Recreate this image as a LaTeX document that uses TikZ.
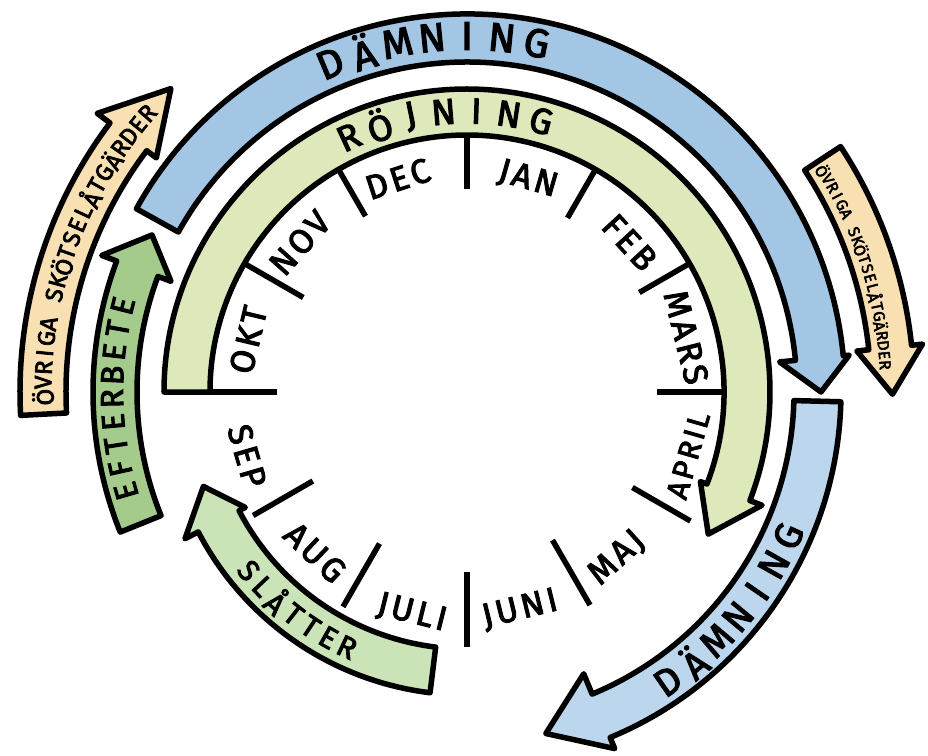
\documentclass[tikz,border=0pt]{standalone}
\usepackage{fontspec}
\setmainfont[FakeBold=3]{Fira Sans}
\newfontfamily\hand[LetterSpace=10,FakeBold=3]{Fira Sans}
\definecolor{blueA}{RGB}{163,198,229}
\definecolor{blueB}{RGB}{188,214,238}
\definecolor{roj}{RGB}{221,233,187}
\definecolor{slat}{RGB}{203,228,183}
\definecolor{efter}{RGB}{165,203,140}
\definecolor{ovr}{RGB}{248,224,178}
\tikzset{
  band/.style={draw=black,line width=5.5pt,line join=round},
  divider/.style={draw=black,line width=5.5pt,line cap=butt},
  month/.style={inner sep=0pt,font=\hand\fontsize{34pt}{34pt}\selectfont},
  lettr/.style={inner sep=0pt},
}
% curved clockwise arrow: start, head base, tip, r in, r out, barb in, barb out, style
\newcommand\bandarrow[8]{%
  \pgfmathsetmacro\midr{(#4+#5)/2}%
  \path[band,#8] (#1:#5) arc[start angle=#1, end angle=#2, radius=#5]
     -- (#2:#7) -- (#3:\midr) -- (#2:#6) -- (#2:#4)
     arc[start angle=#2, end angle=#1, radius=#4] -- cycle;}
% letters along an arc, tops outward, reading clockwise
\newcommand\arcout[5]{\foreach \ch [count=\i from 0] in {#5}
  {\node[lettr,rotate={#2-\i*#3-90}] at ({#2-\i*#3}:#1) {#4\ch};}}
% letters along an arc, tops inward, reading counterclockwise
\newcommand\arcin[5]{\foreach \ch [count=\i from 0] in {#5}
  {\node[lettr,rotate={#2+\i*#3+90}] at ({#2+\i*#3}:#1) {#4\ch};}}
\begin{document}
\begin{tikzpicture}[x=1pt,y=1pt]
\useasboundingbox (-467,-363) rectangle (461,392);
\fill[white] (-467,-363) rectangle (461,392);

% arrows
\bandarrow{151}{5.5}{0}{330}{378}{314}{384}{fill=blueA}
\bandarrow{-1.5}{-67.5}{-77}{327}{374}{305}{386}{fill=blueB}
\bandarrow{180}{-21}{-30.5}{257}{303}{250}{316}{fill=roj}
\bandarrow{-97}{-152.5}{-160.3}{257}{303}{250}{318}{fill=slat}
\bandarrow{202}{159.5}{153.5}{330}{374}{316}{390}{fill=efter}
\bandarrow{183}{143}{134.3}{401}{447}{389}{463}{fill=ovr}
\bandarrow{33.3}{6}{-0.3}{404}{447}{392}{458}{fill=ovr}

% month dividers
\foreach \a/\ri/\ro in {90/203/257,60/201/257,30/199/257,0/190/257,-30/191/258,-60/171/246,-90/180/255,-120/175/248,-150/178/247,180/190/257,150/189/255,120/203/258}
  {\draw[divider] (\a:\ri) -- (\a:\ro);}

% months
\node[month,rotate=18]    (dec)   at (108:224)    {DEC};
\node[month,rotate=-16]   (jan)   at (74:221)     {JAN};
\node[month,rotate=-47.4] (feb)   at (42.6:221)   {FEB};
\node[month,rotate=-76]   (mars)  at (14:226)     {MARS};
\node[month,rotate=74,font=\hand\fontsize{30pt}{30pt}\selectfont] (april) at (-16:230) {APRIL};
\node[month,rotate=42.1]  (maj)   at (-47.9:224)  {MAJ};
\node[month,rotate=13.7]  (juni)  at (-76.3:224)  {JUNI};
\node[month,rotate=-14]   (juli)  at (-104:228)   {JULI};
\node[month,rotate=-43.4] (aug)   at (-133.4:221) {AUG};
\node[month,rotate=-73.8] (sep)   at (-163.8:229) {SEP};
\node[month,rotate=76.6]  (okt)   at (166.6:225)  {OKT};
\node[month,rotate=48.3]  (nov)   at (138.3:224)  {NOV};

% band texts
\arcout{356}{112.6}{5.65}{\fontsize{40pt}{40pt}\selectfont}{D,Ä,M,N,I,N,G}
\arcout{281}{114.9}{6.7}{\fontsize{36pt}{36pt}\selectfont}{R,Ö,J,N,I,N,G}
\arcin{352}{-55.2}{5.17}{\fontsize{38pt}{38pt}\selectfont}{D,Ä,M,N,I,N,G}
\arcin{282}{-140.7}{4.25}{\fontsize{30pt}{30pt}\selectfont}{S,L,Å,T,T,E,R}
\arcout{355}{196.2}{3.78}{\fontsize{32pt}{32pt}\selectfont}{E,F,T,E,R,B,E,T,E}
\arcout{424}{180.7}{1.99}{\fontsize{24pt}{24pt}\selectfont}{Ö,V,R,I,G,A,,S,K,Ö,T,S,E,L,Å,T,G,Ä,R,D,E,R}
\arcout{419}{31.9}{1.343}{\fontsize{16pt}{16pt}\selectfont}{Ö,V,R,I,G,A,,S,K,Ö,T,S,E,L,Å,T,G,Ä,R,D,E,R}
\end{tikzpicture}
\end{document}
